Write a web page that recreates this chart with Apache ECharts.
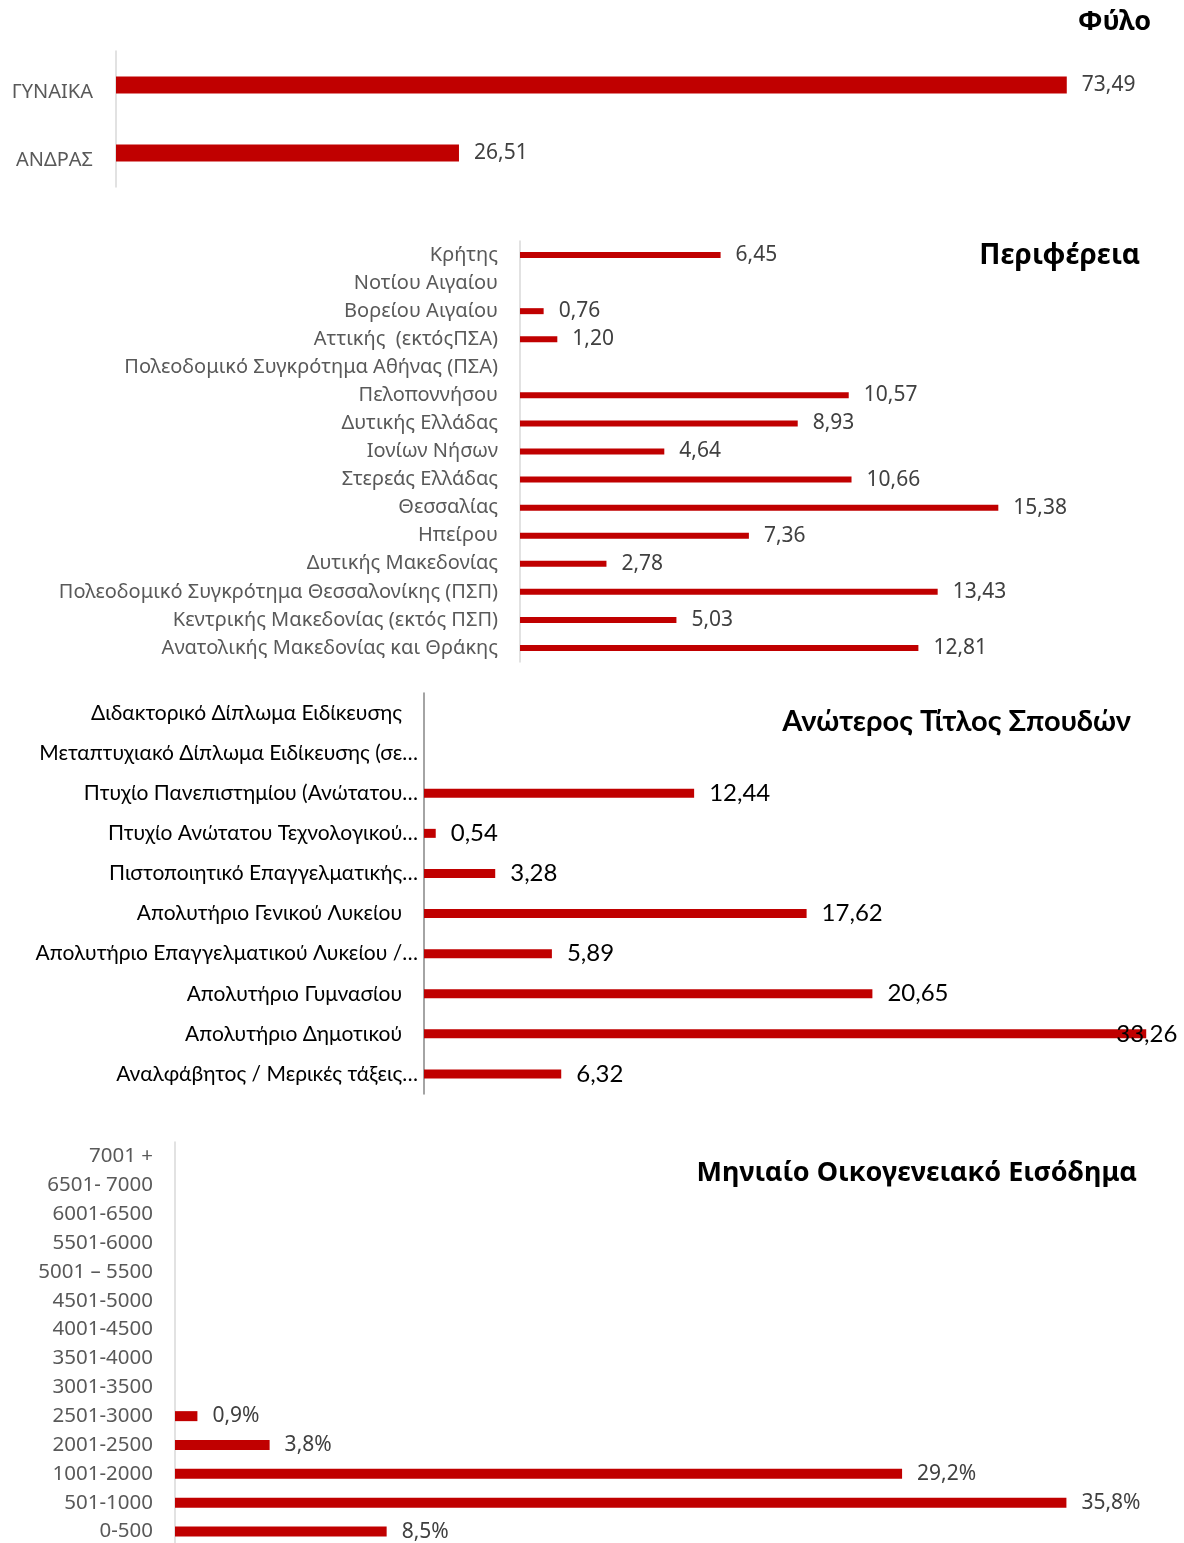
<!DOCTYPE html>
<html lang="el">
<head>
<meta charset="UTF-8">
<title>Προφίλ δείγματος</title>
<style>
    html,body{margin:0;padding:0;background:#fff;}
    #main{width:1184px;height:1543px;}
</style>
</head>
<body>
<div id="main"></div>
<script src="https://cdn.jsdelivr.net/npm/echarts@6/dist/echarts.min.js"></script>
<script>
    // Φύλο
    const genderCats = ['ΓΥΝΑΙΚΑ', 'ΑΝΔΡΑΣ'];
    const genderVals = [73.49, 26.51];

    // Περιφέρεια (top to bottom)
    const regionCats = [
        'Κρήτης', 'Νοτίου Αιγαίου', 'Βορείου Αιγαίου', 'Αττικής  (εκτόςΠΣΑ)',
        'Πολεοδομικό Συγκρότημα Αθήνας (ΠΣΑ)', 'Πελοποννήσου', 'Δυτικής Ελλάδας',
        'Ιονίων Νήσων', 'Στερεάς Ελλάδας', 'Θεσσαλίας', 'Ηπείρου', 'Δυτικής Μακεδονίας',
        'Πολεοδομικό Συγκρότημα Θεσσαλονίκης (ΠΣΠ)', 'Κεντρικής Μακεδονίας (εκτός ΠΣΠ)',
        'Ανατολικής Μακεδονίας και Θράκης'
    ];
    const regionVals = [6.45, '-', 0.76, 1.20, '-', 10.57, 8.93, 4.64, 10.66, 15.38, 7.36, 2.78, 13.43, 5.03, 12.81];

    // Ανώτερος Τίτλος Σπουδών
    const eduCats = [
        'Διδακτορικό Δίπλωμα Ειδίκευσης ', 'Μεταπτυχιακό Δίπλωμα Ειδίκευσης (σε…',
        'Πτυχίο Πανεπιστημίου (Ανώτατου…', 'Πτυχίο Ανώτατου Τεχνολογικού…',
        'Πιστοποιητικό Επαγγελματικής…', 'Απολυτήριο Γενικού Λυκείου ',
        'Απολυτήριο Επαγγελματικού Λυκείου /…', 'Απολυτήριο Γυμνασίου ',
        'Απολυτήριο Δημοτικού ', 'Αναλφάβητος / Μερικές τάξεις…'
    ];
    const eduVals = ['-', '-', 12.44, 0.54, 3.28, 17.62, 5.89, 20.65, 33.26, 6.32];

    // Μηνιαίο Οικογενειακό Εισόδημα
    const incomeCats = [
        '7001 +', '6501- 7000', '6001-6500', '5501-6000', '5001 – 5500', '4501-5000',
        '4001-4500', '3501-4000', '3001-3500', '2501-3000', '2001-2500', '1001-2000',
        '501-1000', '0-500'
    ];
    const incomeVals = ['-', '-', '-', '-', '-', '-', '-', '-', '-', 0.9, 3.8, 29.2, 35.8, 8.5];

    const RED = '#c00000';
    const SEGOE = '"Noto Sans", "Open Sans", sans-serif';
    const CALIBRI = 'Lato, "Noto Sans", sans-serif';

    const comma2 = p => p.value.toFixed(2).replace('.', ',');
    const pct1 = p => p.value.toFixed(1).replace('.', ',') + '%';

    // longest education bar: label pulled back over the bar end
    const eduMax = Math.max(...eduVals.filter(v => typeof v === 'number'));
    const eduData = eduVals.map(v => v === eduMax ? {value: v, label: {offset: [-45, 0]}} : v);

    function catAxis(i, data, opts) {
        const label = {
            color: opts.color,
            fontSize: opts.fontSize,
            fontFamily: opts.font,
            margin: opts.margin,
            interval: 0
        };
        if (opts.lowered) {
            // Excel draws these names a little under the bar
            label.verticalAlign = 'top';
            label.lineHeight = 14;
        }
        if (opts.spaced) {
            // names ending in a blank sit further from the axis
            label.formatter = v => v.endsWith(' ') ? '{s|' + v.trim() + '}' : v;
            label.rich = {s: {padding: [0, 16, 0, 0], color: opts.color, fontSize: opts.fontSize, fontFamily: opts.font}};
        }
        return {
            gridIndex: i,
            type: 'category',
            data: data,
            inverse: true,
            axisTick: {show: false},
            axisLine: {lineStyle: {color: opts.lineColor || '#d9d9d9', width: 1.5}},
            axisLabel: label
        };
    }

    function valAxis(i, max) {
        return {gridIndex: i, type: 'value', min: 0, max: max, show: false};
    }

    function barSeries(i, data, opts) {
        return {
            type: 'bar',
            xAxisIndex: i,
            yAxisIndex: i,
            data: data,
            barWidth: opts.barWidth,
            itemStyle: {color: RED},
            silent: true,
            label: {
                show: true,
                position: 'right',
                distance: 15,
                color: opts.color,
                fontSize: opts.fontSize,
                fontFamily: opts.font,
                formatter: opts.formatter
            }
        };
    }

    function panelTitle(text, right, top, size, font) {
        return {
            text: text,
            right: right,
            top: top,
            padding: 0,
            textStyle: {fontSize: size, fontWeight: 'bold', color: '#000', fontFamily: font}
        };
    }

    const myChart = echarts.init(document.getElementById('main'));

    const option = {
        animation: false,
        title: [
            panelTitle('Φύλο', 33, 9, 27, SEGOE),
            panelTitle('Περιφέρεια', 44, 242, 28, SEGOE),
            panelTitle('Ανώτερος Τίτλος Σπουδών', 53, 707, 29, CALIBRI),
            panelTitle('Μηνιαίο Οικογενειακό Εισόδημα', 47, 1160, 27, SEGOE)
        ],
        grid: [
            {left: 116, right: 33, top: 51, height: 136, outerBoundsMode: 'none'},
            {left: 520, right: 42, top: 241, height: 421, outerBoundsMode: 'none'},
            {left: 424, right: 0, top: 693, height: 401, outerBoundsMode: 'none'},
            {left: 175, right: 13, top: 1142, height: 404, outerBoundsMode: 'none'}
        ],
        xAxis: [
            valAxis(0, 80),
            valAxis(1, 20),
            valAxis(2, 35),
            valAxis(3, 40)
        ],
        yAxis: [
            catAxis(0, genderCats, {color: '#595959', fontSize: 20, font: SEGOE, margin: 23, lowered: true}),
            catAxis(1, regionCats, {color: '#595959', fontSize: 20, font: SEGOE, margin: 22}),
            catAxis(2, eduCats, {color: '#000', fontSize: 21, font: CALIBRI, margin: 6, lineColor: '#868686', spaced: true}),
            catAxis(3, incomeCats, {color: '#595959', fontSize: 20.5, font: SEGOE, margin: 22})
        ],
        series: [
            barSeries(0, genderVals, {barWidth: 17, color: '#404040', fontSize: 21, font: SEGOE, formatter: comma2}),
            barSeries(1, regionVals, {barWidth: 6, color: '#404040', fontSize: 21, font: SEGOE, formatter: comma2}),
            barSeries(2, eduData, {barWidth: 9, color: '#000', fontSize: 24, font: CALIBRI, formatter: comma2}),
            barSeries(3, incomeVals, {barWidth: 10, color: '#404040', fontSize: 21, font: SEGOE, formatter: pct1})
        ]
    };

    myChart.setOption(option);
</script>
</body>
</html>
